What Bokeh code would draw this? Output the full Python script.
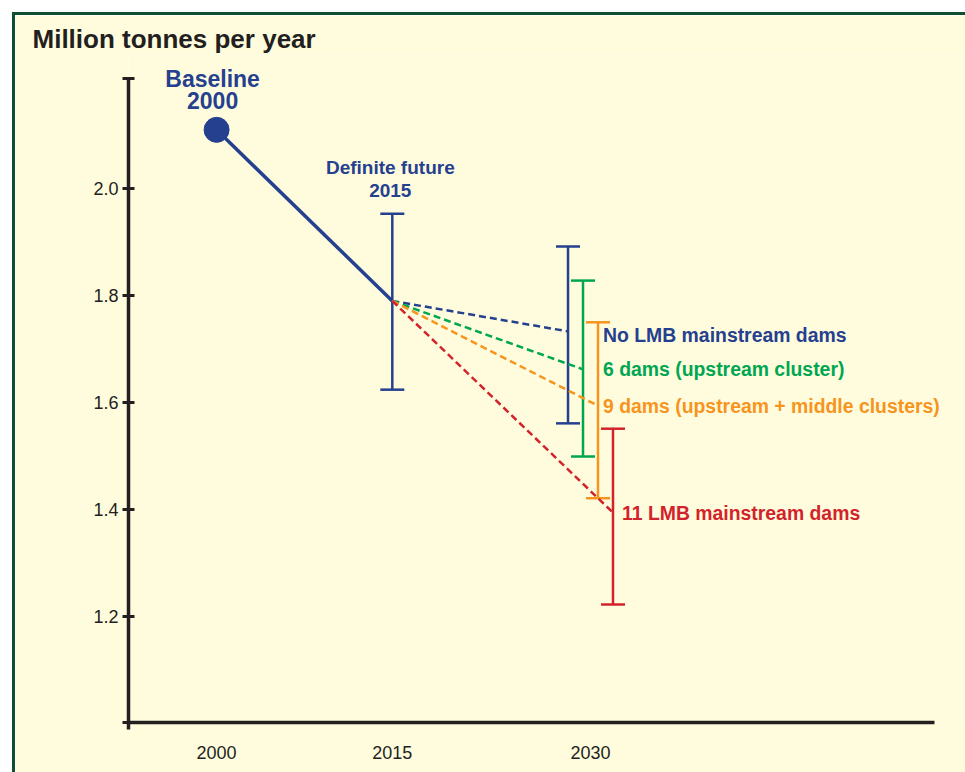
from bokeh.plotting import figure
from bokeh.models import (Range1d, FixedTicker, LinearAxis, Label, LabelSet,
                          Whisker, TeeHead, ColumnDataSource)
from bokeh.core.properties import value
from bokeh.embed import file_html
from bokeh.resources import INLINE

# ---------------- data ----------------
years = [2000, 2015]
baseline_value = 2.11
definite_value = 1.79
definite_low = 1.624
definite_high = 1.953

scenario_year = 2030
scenario_names = ["No LMB mainstream dams",
                  "6 dams (upstream cluster)",
                  "9 dams (upstream + middle clusters)",
                  "11 LMB mainstream dams"]
scenario_mid = [1.733, 1.662, 1.594, 1.394]
scenario_low = [1.561, 1.499, 1.421, 1.222]
scenario_high = [1.892, 1.828, 1.750, 1.551]
scenario_colors = ["#25408f", "#00a651", "#f7941d", "#d2232c"]

y_tick_values = [1.2, 1.4, 1.6, 1.8, 2.0]
y_tick_labels = ["1.2", "1.4", "1.6", "1.8", "2.0"]
x_tick_labels = ["2000", "2015", "2030"]

title_text = "Million tonnes per year"
baseline_label = ["Baseline", "2000"]
definite_label = ["Definite future", "2015"]

# ---------------- style ----------------
BLUE = scenario_colors[0]
INK = "#231f20"
BG = "#fffcde"
FRAME = "#0d4f2f"
FONT = "Liberation Sans"

Y0, YCAP, Y1 = 1.0015, 2.206, 2.249
X0, XAX_END, X1 = 1992.48, 2061.28, 2063.59
GAP = 1.28  # spacing between the 2030 bars (in x units)

p = figure(width=950, height=757,
           x_range=Range1d(X0, X1), y_range=Range1d(Y0, Y1),
           output_backend="svg", toolbar_location=None,
           x_axis_location=None, y_axis_location=None,
           min_border_left=113, min_border_top=40,
           min_border_right=7, min_border_bottom=53)
p.background_fill_color = BG
p.border_fill_color = BG
p.outline_line_color = None
p.grid.visible = False
p.styles = {"margin-left": "12px", "margin-top": "12px",
            "border-left": f"3px solid {FRAME}",
            "border-top": f"3px solid {FRAME}",
            "box-sizing": "content-box"}

p.title.text = title_text
p.title.align = "left"
p.title.offset = -96
if "standoff" in p.title.properties():
    p.title.standoff = 4
p.title.text_font = FONT
p.title.text_font_style = "bold"
p.title.text_font_size = "26px"
p.title.text_color = INK

# y axis (with end caps at both ends)
y_over = {Y0: "", YCAP: ""}
y_over.update(dict(zip(y_tick_values, y_tick_labels)))
yax = LinearAxis(ticker=FixedTicker(ticks=[Y0] + y_tick_values + [YCAP]),
                 bounds=(Y0, YCAP),
                 major_label_overrides=y_over,
                 axis_line_width=3.5, axis_line_color=INK,
                 major_tick_line_width=3, major_tick_line_color=INK,
                 major_tick_in=6, major_tick_out=6,
                 minor_tick_line_color=None,
                 major_label_standoff=4,
                 major_label_text_font=FONT,
                 major_label_text_font_size="18px",
                 major_label_text_color=INK)
p.add_layout(yax, "left")

# x axis line (with small overhang of the y axis below it)
xax1 = LinearAxis(ticker=FixedTicker(ticks=[X0]),
                  bounds=(X0, XAX_END),
                  major_label_overrides={X0: ""},
                  axis_line_width=3.5, axis_line_color=INK,
                  major_tick_line_width=3.5, major_tick_line_color=INK,
                  major_tick_in=0, major_tick_out=7,
                  minor_tick_line_color=None,
                  major_label_standoff=0,
                  major_label_text_font_size="1px")
p.add_layout(xax1, "below")

# x labels
x_label_pos = [years[0], years[1], scenario_year + 1.5 * GAP]
xax2 = LinearAxis(ticker=FixedTicker(ticks=x_label_pos),
                  major_label_overrides=dict(zip(x_label_pos, x_tick_labels)),
                  axis_line_color=None, major_tick_line_color=None,
                  minor_tick_line_color=None,
                  major_label_standoff=10,
                  major_label_text_font=FONT,
                  major_label_text_font_size="18px",
                  major_label_text_color=INK)
p.add_layout(xax2, "below")

# solid line baseline -> definite future
p.line(years, [baseline_value, definite_value], line_color=BLUE, line_width=3.5)

# dashed scenario lines
scen_x = [scenario_year + i * GAP for i in range(len(scenario_names))]
for xe, ym, c in zip(scen_x, scenario_mid, scenario_colors):
    p.line([years[1], xe], [definite_value, ym], line_color=c,
           line_width=2.5, line_dash="7 4")


def add_bar(x, lo, hi, color):
    src = ColumnDataSource(dict(x=[x], lo=[lo], hi=[hi]))
    head = dict(size=24, line_color=color, line_width=2.5)
    p.add_layout(Whisker(base="x", lower="lo", upper="hi", source=src,
                         dimension="height", line_color=color, line_width=2.5,
                         upper_head=TeeHead(**head), lower_head=TeeHead(**head)))


add_bar(years[1], definite_low, definite_high, BLUE)
for xe, lo, hi, c in zip(scen_x, scenario_low, scenario_high, scenario_colors):
    add_bar(xe, lo, hi, c)

# baseline point
p.scatter([years[0]], [baseline_value], size=25, color=BLUE)

# scenario labels
lab_x = [scen_x[2]] * 3 + [scen_x[3]]
lab_dx = [5, 5, 5, 9]
lab_dy = [-4, 0, 0, 0]
src_l = ColumnDataSource(dict(x=lab_x, y=scenario_mid, t=scenario_names,
                              c=scenario_colors, dx=lab_dx, dy=lab_dy))
p.add_layout(LabelSet(x="x", y="y", text="t", source=src_l, x_offset="dx",
                      y_offset="dy", text_color="c", text_font=value(FONT),
                      text_font_style="bold", text_font_size="19.4px",
                      text_align="left", text_baseline="middle"))

# annotations
for i, t in enumerate(baseline_label):
    p.add_layout(Label(x=years[0], y=baseline_value, text=t, x_offset=-4,
                       y_offset=51 - 22 * i, text_color=BLUE, text_font=FONT,
                       text_font_style="bold", text_font_size="23px",
                       text_align="center", text_baseline="middle"))
for i, t in enumerate(definite_label):
    p.add_layout(Label(x=years[1], y=definite_high, text=t, x_offset=-2,
                       y_offset=46 - 23 * i, text_color=BLUE, text_font=FONT,
                       text_font_style="bold", text_font_size="19px",
                       text_align="center", text_baseline="middle"))

open("out.html", "w").write(file_html(p, INLINE))
